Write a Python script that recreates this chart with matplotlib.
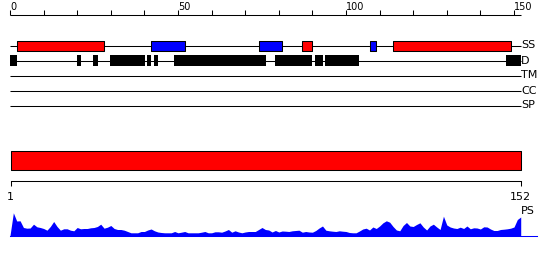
import matplotlib
matplotlib.use("Agg")
import matplotlib.pyplot as plt
import numpy as np

# ---------------- data ----------------
seq_length = 152
top_ticks = [0, 10, 20, 30, 40, 50, 60, 70, 80, 90, 100, 110, 120, 130, 140, 150]
top_tick_labels = [0, 50, 100, 150]
track_names = ["SS", "D", "TM", "CC", "SP"]
ss_helix = [(2, 28), (87, 90), (114, 149)]          # red
ss_strand = [(42, 52), (74, 81), (107, 109)]        # blue
disorder = [(0, 2), (20, 21.1), (24.7, 26.1), (29.8, 40.2), (40.8, 42),
            (42.9, 44), (48.8, 76.2), (78.9, 89.8), (90.8, 93.1),
            (93.8, 103.8), (147.7, 152)]
domain_range = (1, 152)
ruler_labels = [1, 152]
profile_name = "PS"
# profile score by residue (index 0 = residue 0)
ps_values = [0,
    22.7, 14.5, 14.7, 8, 7.3, 7.5, 11.3, 8.7, 8, 7,
    5.3, 9, 14, 9, 5.3, 6.7, 6.7, 5.3, 4.7, 8,
    6.7, 7, 7, 7.7, 8, 9, 11.3, 7.3, 8.3, 10,
    7, 6, 6, 5.3, 4, 2.7, 2.7, 2.7, 4, 4,
    5.5, 6.5, 4.7, 3.5, 3, 2.7, 2.7, 2.7, 4, 2.7,
    3.3, 4, 2.7, 2.7, 2.7, 2.7, 3.3, 4, 2.7, 2.7,
    3.7, 3.7, 3.3, 4.5, 6, 3.3, 4.7, 3.5, 2.7, 3.5,
    4, 4, 4, 6, 8, 6, 5.5, 3.5, 5, 3.5,
    4.5, 4.3, 4, 4.7, 5, 5.3, 3.3, 4, 3.5, 3.3,
    5, 7.5, 9.5, 5.3, 4.7, 4.3, 4, 4.7, 4.3, 4,
    3, 2.7, 2.7, 4.5, 6.5, 7.3, 5.5, 8.5, 7, 9.5,
    12.7, 14.7, 13.3, 9, 5.5, 4.7, 10, 13, 9.5, 9,
    11, 12.7, 8.5, 5.5, 9.5, 11.3, 8.5, 6, 19.3, 10.5,
    8.5, 7.5, 7, 8.3, 7, 9.5, 6.7, 7.7, 7.5, 6.5,
    8.7, 8.5, 6.5, 5, 5, 6, 6.3, 6.7, 7.3, 8.5,
    16, 18.5]

# ---------------- layout (pixels) ----------------
W, H = 550, 260
X0 = 10.0            # pixel of residue 0 on top scale
PXU = 3.36           # pixels per residue
LW = 0.75
RED, BLUE, BLACK = "#ff0000", "#0000ff", "#000000"

fig = plt.figure(figsize=(W / 100, H / 100), dpi=100)
fig.patch.set_facecolor("white")

ax = fig.add_axes([0, 0, 1, 1])
ax.set_xlim(-X0 / PXU, (W - X0) / PXU)
ax.set_ylim(H, 0)
ax.axis("off")

# top ruler
ax.plot([0, seq_length], [14.5, 14.5], color=BLACK, lw=LW, solid_capstyle="butt")
ax.vlines(top_ticks, 10, 14.5, color=BLACK, lw=LW)
for t in top_tick_labels:
    ax.text(t, 10.3, str(t), ha="left", va="baseline", fontsize=7, color=BLACK)

# tracks
track_y = [45.5, 60.5, 75.5, 90.5, 105.5]
ax.hlines(track_y, 0, seq_length, color=BLACK, lw=LW)
for name, y in zip(track_names, track_y):
    ax.text(seq_length + 0.1, y, name, ha="left", va="center", fontsize=8, color=BLACK)

ax.broken_barh([(s, e - s) for s, e in ss_helix], (41, 9.5),
               facecolors=RED, edgecolors=BLACK, linewidth=LW, zorder=3)
ax.broken_barh([(s, e - s) for s, e in ss_strand], (41, 9.5),
               facecolors=BLUE, edgecolors=BLACK, linewidth=LW, zorder=3)
ax.broken_barh([(s, e - s) for s, e in disorder], (54.5, 11.5),
               facecolors=BLACK, edgecolors="none", zorder=3)

# bottom ruler / domain bar (own scale: 1 -> 10.5 px, 152 -> 520.7 px)
bx0, bx1 = 10.5, 520.7
bpx = (bx1 - bx0) / (domain_range[1] - domain_range[0])
axb = fig.add_axes([0, 0, 1, 1])
axb.set_xlim(domain_range[0] - bx0 / bpx, domain_range[1] + (W - bx1) / bpx)
axb.set_ylim(H, 0)
axb.axis("off")
axb.patch.set_alpha(0)
axb.broken_barh([(domain_range[0], domain_range[1] - domain_range[0])], (150.5, 19.5),
                facecolors=RED, edgecolors=BLACK, linewidth=LW)
axb.plot([ruler_labels[0], ruler_labels[-1]], [180.5, 180.5], color=BLACK, lw=LW)
axb.vlines(ruler_labels, 180.5, 185.5, color=BLACK, lw=LW)
for t in ruler_labels:
    axb.text(t, 199.8, str(t), ha="center", va="baseline", fontsize=8, color=BLACK)

# profile
base_px = 235.5
prof_h = 30
axp = fig.add_axes([0, (H - base_px) / H, 1, prof_h / H])
axp.set_xlim(-X0 / PXU, (W - X0) / PXU)
axp.set_ylim(0, prof_h)
axp.axis("off")
axp.patch.set_alpha(0)
xs = np.arange(len(ps_values))
axp.fill_between(xs, ps_values, 0, color=BLUE, lw=0)
axp.plot([0, (536.7 - X0) / PXU], [0, 0], color=BLUE, lw=LW, clip_on=False)
ax.text(seq_length + 0.1, 210.5, profile_name, ha="left", va="center", fontsize=8, color=BLACK)

fig.savefig("out.png", dpi=100, facecolor="white")
